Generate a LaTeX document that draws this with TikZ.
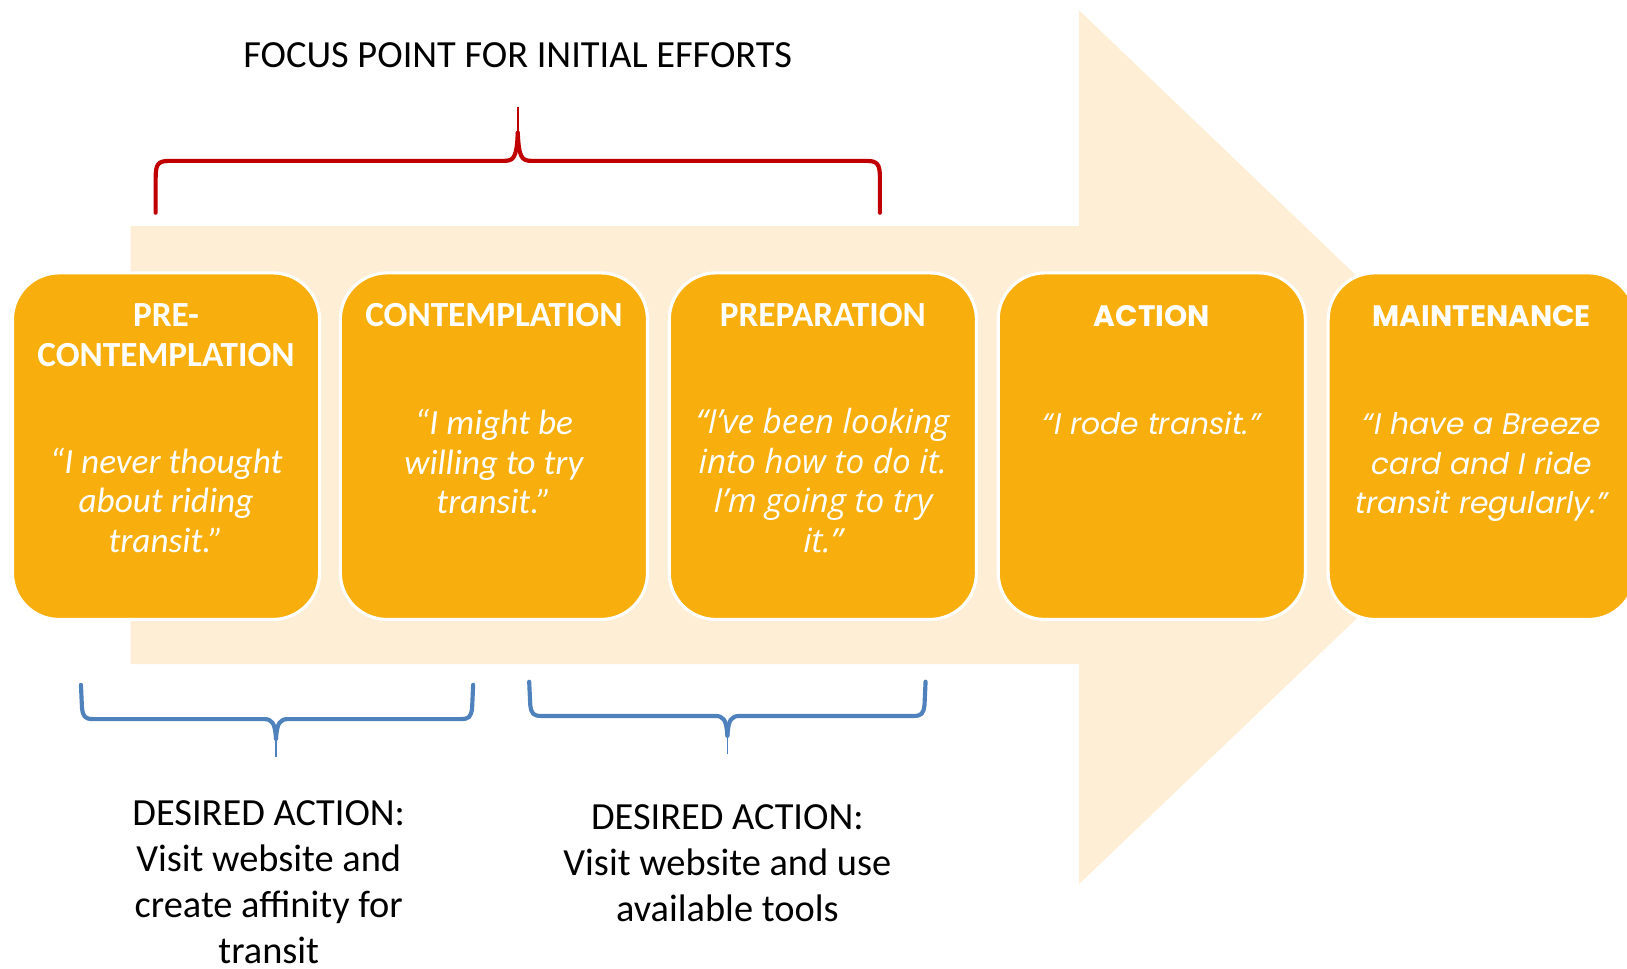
\documentclass[tikz,border=0pt]{standalone}
\usepackage{fontspec}
\setmainfont{Carlito}
\newfontfamily\gothic{Poppins}
\newfontfamily\osans{Open Sans}
\definecolor{boxorange}{RGB}{248,175,13}
\definecolor{arrowfill}{RGB}{253,238,213}
\definecolor{bracered}{RGB}{192,0,0}
\definecolor{braceblue}{RGB}{79,129,189}
\tikzset{
  stagebox/.style={draw=white, line width=3pt, fill=boxorange, rounded corners=45pt,
    minimum width=296pt, minimum height=334pt, inner sep=0pt},
  stagetitle/.style={text=white, font=\fontsize{34}{38}\selectfont\bfseries, align=center, anchor=base, inner sep=0pt},
  gothictitle/.style={stagetitle, font=\fontsize{28.5}{38}\selectfont\gothic\bfseries},
  stagequote/.style={text=white, font=\fontsize{34}{38}\selectfont\itshape, align=center, anchor=base, inner sep=0pt},
  gothicquote/.style={stagequote, font=\fontsize{28.7}{38}\selectfont\gothic\itshape},
  blacktext/.style={text=black, font=\fontsize{37}{44.5}\selectfont, align=center, anchor=base, inner sep=0pt},
  redbrace/.style={draw=bracered, line width=4pt, line cap=round, line join=round},
  bluebrace/.style={draw=braceblue, line width=4pt, line cap=round, line join=round},
}
\begin{document}
\begin{tikzpicture}[x=1pt,y=-1pt]
\useasboundingbox (0,0) rectangle (1568,933);
% background arrow
\fill[arrowfill] (126,218) -- (1040,218) -- (1040,10) -- (1480,431) -- (1040,852) -- (1040,640) -- (126,640) -- cycle;

% boxes
\node[stagebox] (b1) at (160,430) {};
\node[stagebox] (b2) at (476,430) {};
\node[stagebox] (b3) at (793,430) {};
\node[stagebox] (b4) at (1110,430) {};
\node[stagebox] (b5) at (1428,430) {};

% titles (anchor = baseline of last line)
\node[stagetitle] (t1) at (160,353) {PRE-\\CONTEMPLATION};
\node[stagetitle] (t2) at (476,315) {CONTEMPLATION};
\node[stagetitle] (t3) at (793,315) {PREPARATION};
\node[gothictitle] (t4) at (1110,315) {ACTION};
\node[gothictitle] (t5) at (1428,315) {MAINTENANCE};

% quotes (anchor = baseline of last line)
\node[stagequote] (q1) at (160,532) {“I never thought\\about riding\\transit.”};
\node[stagequote] (q2) at (476,495) {“I might be\\willing to try\\transit.”};
\node[stagequote, font=\fontsize{32}{38}\selectfont\osans\itshape] (q3) at (793,532) {“I’ve been looking\\into how to do it.\\I’m going to try\\it.”};
\node[gothicquote] (q4) at (1110,419) {“I rode transit.”};
\node[gothicquote] (q5) at (1428,495) {“I have a Breeze\\card and I ride\\transit regularly.”};

% red brace
\coordinate (rl) at (150,205);
\coordinate (rr) at (848,205);
\coordinate (rt) at (499,103);
\draw[redbrace] (rl) -- (150,172) .. controls (150,158) and (152,155) .. (164,155) -- (486,155) .. controls (495,155) and (498,152) .. (499,128);
\draw[redbrace] (rr) -- (848,172) .. controls (848,158) and (846,155) .. (834,155) -- (512,155) .. controls (503,155) and (500,152) .. (499,128);
\draw[draw=bracered, line width=1.5pt] (499,132) -- (rt);

% blue brace 1
\coordinate (bl1) at (78,660);
\coordinate (br1) at (456,660);
\coordinate (bt1) at (266,730);
\draw[bluebrace] (bl1) -- (79,682) .. controls (80,691) and (82,693) .. (90,693) -- (254,693) .. controls (262,693) and (265,696) .. (266,712);
\draw[bluebrace] (br1) -- (455,682) .. controls (454,691) and (452,693) .. (444,693) -- (278,693) .. controls (270,693) and (267,696) .. (266,712);
\draw[draw=braceblue, line width=1.5pt] (266,708) -- (bt1);

% blue brace 2
\coordinate (bl2) at (510,657);
\coordinate (br2) at (892,657);
\coordinate (bt2) at (701,727);
\draw[bluebrace] (bl2) -- (511,679) .. controls (512,688) and (514,690) .. (522,690) -- (689,690) .. controls (697,690) and (700,693) .. (701,709);
\draw[bluebrace] (br2) -- (891,679) .. controls (890,688) and (888,690) .. (880,690) -- (713,690) .. controls (705,690) and (702,693) .. (701,709);
\draw[draw=braceblue, line width=1.5pt] (701,705) -- (bt2);

% texts (anchor = baseline of last line)
\node[blacktext] (focus) at (499,65) {FOCUS POINT FOR INITIAL EFFORTS};
\node[blacktext] (da1) at (259,929) {DESIRED ACTION:\\Visit website and\\create affinity for\\transit};
\node[blacktext] (da2) at (701,888) {DESIRED ACTION:\\Visit website and use\\available tools};
\end{tikzpicture}
\end{document}
